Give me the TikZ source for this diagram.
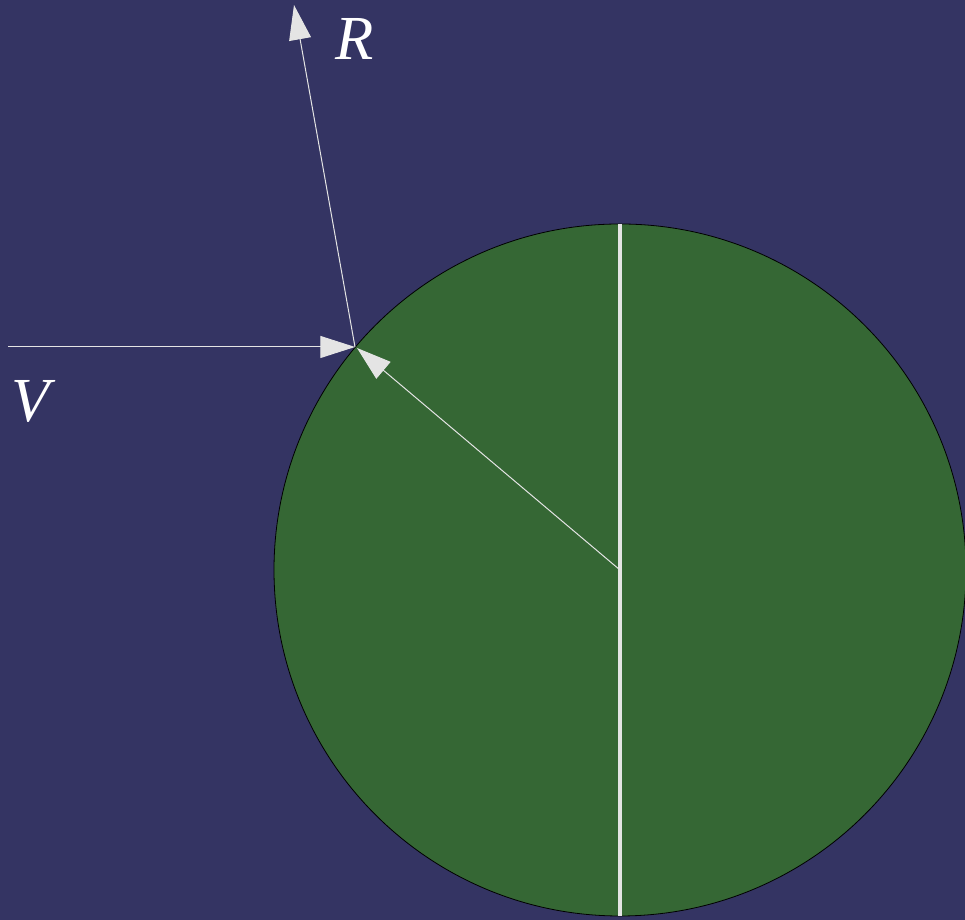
\documentclass[tikz,border=0pt]{standalone}
\usepackage{fontspec}
\newfontfamily\labfont{Liberation Serif}
\usepackage{xcolor}
\usepackage{tikz}
\usetikzlibrary{calc,arrows.meta}
\definecolor{skycol}{HTML}{343463}
\definecolor{ballcol}{HTML}{356734}
\definecolor{raycol}{HTML}{E4E4E4}
\tikzset{
  ball/.style     = {draw=black, line width=0.6pt, fill=ballcol},
  axisline/.style = {draw=raycol, line width=2.6pt},
  ray/.style      = {draw=raycol, line width=0.75pt,
                     -{Triangle[length=26pt, width=16.5pt, fill=raycol]}},
  veclab/.style   = {font=\labfont\fontsize{47}{54}\selectfont\itshape, text=white,
                     inner sep=0pt},
}

\begin{document}
\begin{tikzpicture}[x=0.75pt, y=0.75pt]

    % ---------- frame and sky -------------------------------------------
    \fill[skycol] (0,0) rectangle (965,920);
    \useasboundingbox (0,0) rectangle (965,920);

    % ---------- points ---------------------------------------------------
    \coordinate (ctr)  at (620,350);   \coordinate (hit)  at (355,573);
    \coordinate (vsrc) at (8,573);     \coordinate (rtip) at (294,915);

    % ---------- ball -----------------------------------------------------
    \draw[ball] (ctr) circle (346);
    \draw[axisline] ($(ctr)+(0,346)$) -- ($(ctr)+(0,-346)$);

    % ---------- rays -----------------------------------------------------
    \draw[ray] (vsrc) -- (hit);
    \draw[ray] (hit) -- (rtip);
    \draw[ray] (ctr) -- ($(hit)+(2,-1)$);

    % ---------- labels ---------------------------------------------------
    \node[veclab] (vlab) at (31,519) {V};
    \node[veclab] (rlab) at (355,881) {R};

\end{tikzpicture}
\end{document}
